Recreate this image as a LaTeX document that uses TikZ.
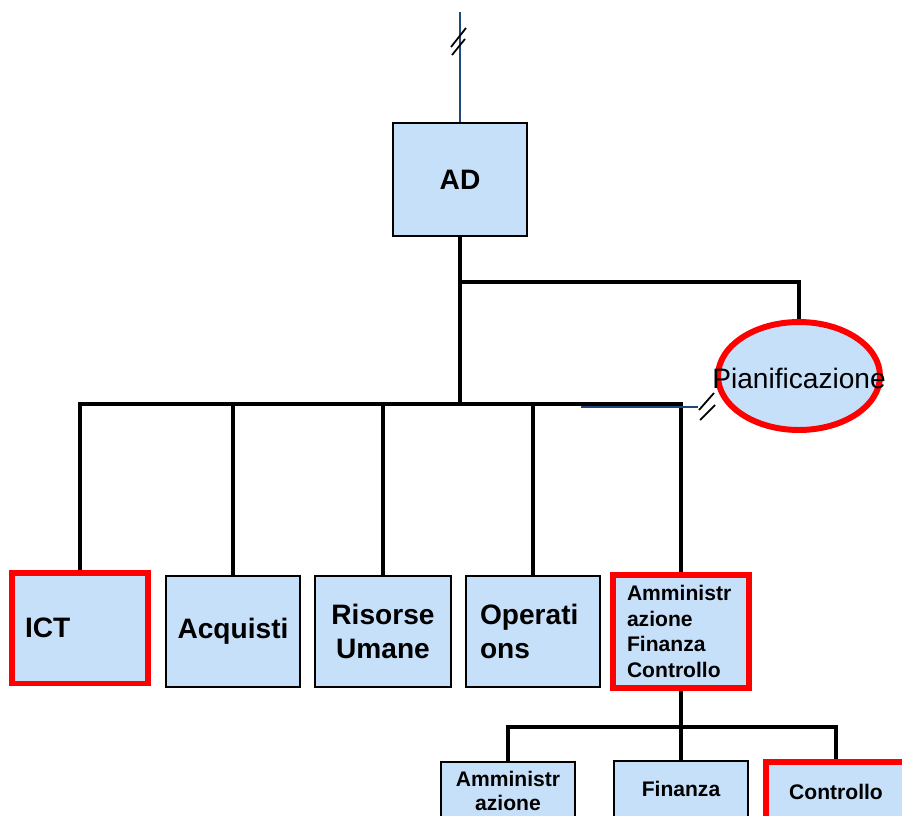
\documentclass[tikz,border=0pt]{standalone}
\usepackage{fontspec}
\setmainfont{Liberation Sans}
\usetikzlibrary{shapes.geometric}
\definecolor{boxblue}{RGB}{199,224,250}
\definecolor{staffblue}{RGB}{31,73,125}
\begin{document}
\begin{tikzpicture}[x=0.02cm, y=-0.02cm,
    every node/.style={inner sep=0pt},
    unit/.style={draw=black, line width=1.1pt, fill=boxblue, minimum width=2.68cm, minimum height=2.22cm, font=\fontsize{16}{19}\selectfont\bfseries, align=center},
    hot/.style={draw=red, line width=3.4pt},
    small/.style={font=\fontsize{12}{14.6}\selectfont\bfseries},
    conn/.style={line width=2.2pt},
    staff/.style={draw=staffblue, line width=0.8pt},
    brk/.style={line width=1pt}]
    \useasboundingbox (0,0) rectangle (902,815);
    \clip (0,0) rectangle (902,815);
    % top
    \node[unit, minimum height=2.26cm] (AD) at (460,179.5) {AD};
    \node[ellipse, fill=boxblue, hot, minimum width=3.24cm, minimum height=2.16cm] (pian) at (799,376) {};
    \node[font=\fontsize{16}{19}\selectfont] (pianT) at (799,378) {Pianificazione};
    % first level
    \node[unit, hot, minimum width=2.72cm, text width=2.2cm, align=left] (ict) at (80,628) {ICT};
    \node[unit] (acq) at (233,631.5) {Acquisti};
    \node[unit, minimum width=2.72cm] (ru) at (383,631.5) {Risorse\\Umane};
    \node[unit, text width=2.12cm, align=left] (ops) at (533,631.5) {Operati\\ons};
    \node[unit, hot, small, minimum width=2.72cm, minimum height=2.26cm, text width=2.16cm, align=left] (afc) at (681,631.5) {Amministr\\azione\\Finanza\\Controllo};
    % second level
    \node[unit, small, font=\fontsize{12}{14}\selectfont\bfseries, minimum height=1.16cm] (amm) at (508,791) {Amministr\\azione};
    \node[unit, small, minimum height=1.12cm] (fin) at (681,789) {Finanza};
    \node[unit, hot, small, minimum width=2.8cm, minimum height=1.2cm] (ctrl) at (836,792) {Controllo};
    % links
    \coordinate (top) at (460,12);
    \coordinate (split) at (460,282);
    \coordinate (bus) at (460,404);
    \coordinate (sub) at (681,727);
    \coordinate (staffL) at (581,407);
    \coordinate (staffR) at (698,407);
    \draw[staff] (top) -- (AD);
    \draw[conn] (AD) -- (bus);
    \draw[conn] (split) -| (pian);
    \draw[conn] (ict) |- (bus) -| (afc);
    \foreach \n in {acq,ru,ops}
        \draw[conn] (\n) -- (\n |- bus);
    \draw[staff] (staffL) -- (staffR);
    \draw[conn] (afc) -- (sub);
    \draw[conn] (amm) |- (sub) -| (ctrl);
    \draw[conn] (fin) -- (fin |- sub);
    % break marks
    \draw[brk, shift={(459,40)}] (-8,7) -- (7,-12) (-7,15) -- (6,-1);
    \draw[brk, shift={(707,406)}] (-8,4) -- (7,-13) (-7,14) -- (8,-1);
\end{tikzpicture}
\end{document}
